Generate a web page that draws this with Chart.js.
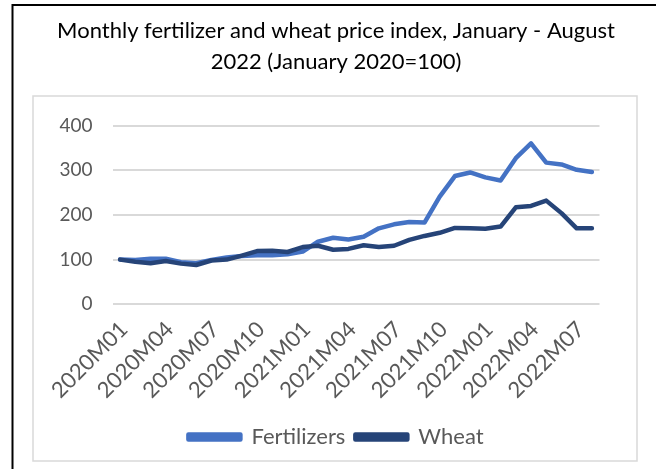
<!DOCTYPE html>
<html>
<head>
<meta charset="utf-8">
<script src="https://cdn.jsdelivr.net/npm/chart.js@4"></script>
<style>
  body { margin: 0; background: #fff; }
  #wrap { width: 656px; height: 469px; }
</style>
</head>
<body>
<div id="wrap"><canvas id="grafico" width="656" height="469"></canvas></div>
<script>
var meses = ["2020M01","2020M02","2020M03","2020M04","2020M05","2020M06","2020M07","2020M08","2020M09","2020M10","2020M11","2020M12",
  "2021M01","2021M02","2021M03","2021M04","2021M05","2021M06","2021M07","2021M08","2021M09","2021M10","2021M11","2021M12",
  "2022M01","2022M02","2022M03","2022M04","2022M05","2022M06","2022M07","2022M08"];

var fertilizantes = [100, 99, 102, 102, 94, 92, 99, 105, 108, 110, 110, 112,
  118, 140, 149, 145, 151, 170, 179, 184, 183, 241, 287, 295,
  284, 277, 327, 360, 317, 313, 301, 296];

var trigo = [100, 95, 92, 97, 91, 88, 98, 100, 109, 119, 120, 117,
  128, 131, 122, 124, 132, 128, 131, 144, 153, 160, 171, 170,
  169, 174, 217, 220, 232, 204, 170, 170];

var yTicks = [0, 100, 200, 300, 400];

// bordas do quadro (linha preta e caixa cinza)
var bordas = {
  id: "bordas",
  beforeDraw: function (chart) {
    var ctx = chart.ctx;
    ctx.save();
    ctx.fillStyle = "#fff";
    ctx.fillRect(0, 0, chart.width, chart.height);
    ctx.strokeStyle = "#000";
    ctx.lineWidth = 2;
    ctx.beginPath();
    ctx.moveTo(656, 5);
    ctx.lineTo(12.5, 5);
    ctx.lineTo(12.5, 469);
    ctx.stroke();
    ctx.strokeStyle = "#d9d9d9";
    ctx.lineWidth = 1.5;
    ctx.strokeRect(33, 96, 604, 365);
    ctx.restore();
  }
};

new Chart(document.getElementById("grafico").getContext("2d"), {
  type: "line",
  data: {
    labels: meses,
    datasets: [
      {
        label: "Fertilizers",
        data: fertilizantes,
        borderColor: "#4472C4",
        backgroundColor: "#4472C4",
        borderWidth: 4.5,
        pointRadius: 0,
        borderCapStyle: "round",
        borderJoinStyle: "round",
        order: 1
      },
      {
        label: "Wheat",
        data: trigo,
        borderColor: "#264478",
        backgroundColor: "#264478",
        borderWidth: 4.5,
        pointRadius: 0,
        borderCapStyle: "round",
        borderJoinStyle: "round",
        order: 0
      }
    ]
  },
  options: {
    responsive: false,
    animation: false,
    layout: { padding: { left: 33, right: 17, top: 0, bottom: 11 } },
    plugins: {
      title: {
        display: true,
        text: ["Monthly fertilizer and wheat price index, January - August", "2022 (January 2020=100)"],
        color: "#000",
        font: { family: "Lato", size: 22, weight: "normal", lineHeight: 1.41 },
        padding: { top: 15.5, bottom: 48 }
      },
      legend: {
        position: "bottom",
        labels: {
          color: "#595959",
          font: { family: "Lato", size: 22 },
          boxWidth: 52,
          boxHeight: 5,
          padding: 10,
          sort: function (a, b) { return a.datasetIndex - b.datasetIndex; }
        }
      },
      tooltip: { enabled: false }
    },
    scales: {
      x: {
        offset: true,
        grid: { display: false, drawTicks: false },
        border: { display: false },
        afterFit: function (scale) { scale.height = 111.7; },
        ticks: {
          autoSkip: false,
          maxRotation: 45,
          minRotation: 45,
          padding: 12,
          labelOffset: 4,
          color: "#595959",
          font: { family: "Lato", size: 22 },
          callback: function (v, i) { return i % 3 === 0 ? meses[i] : ""; }
        }
      },
      y: {
        min: 0,
        max: 400,
        afterFit: function (scale) { scale.width = 79.5; },
        afterBuildTicks: function (scale) { scale.ticks = yTicks.map(v => ({ value: v })); },
        grid: { color: "#d9d9d9", lineWidth: 2, drawTicks: false },
        border: { display: false },
        ticks: {
          padding: 20,
          color: "#595959",
          font: { family: "Lato", size: 19 }
        }
      },
      // eixo vazio à direita, só para deslocar titulo e legenda
      espaco: {
        type: "linear",
        position: "right",
        grid: { display: false, drawTicks: false },
        border: { display: false },
        ticks: { display: false },
        afterFit: function (scale) { scale.width = 39.5; }
      }
    }
  },
  plugins: [bordas]
});
</script>
</body>
</html>
